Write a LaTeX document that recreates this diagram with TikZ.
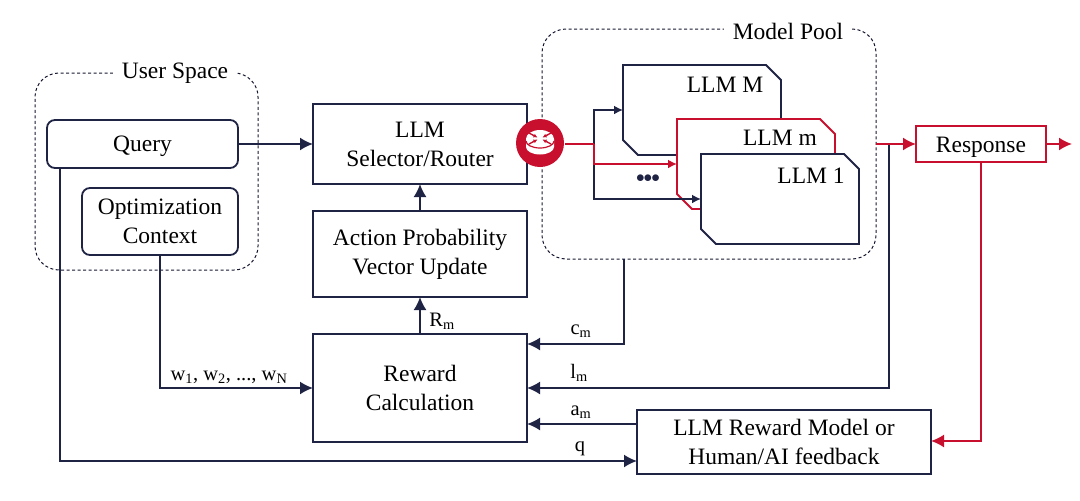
\documentclass[tikz,border=0pt]{standalone}
\usepackage{fontspec}
\setmainfont{Liberation Serif}
\usetikzlibrary{arrows.meta}
\definecolor{navy}{HTML}{1F2344}
\definecolor{crimson}{HTML}{C8102E}
\tikzset{
  flow/.style={draw=navy, line width=1.8pt, -{Latex[length=13pt,width=13pt]}},
  redflow/.style={line width=1.8pt, draw=crimson, -{Latex[length=13pt,width=13pt,color=crimson]}},
  smallflow/.style={line width=1.8pt, -{Latex[length=9pt,width=9pt]}},
  block/.style={draw=navy, line width=1.8pt, align=center, inner sep=0pt, outer sep=0pt,
    execute at begin node={\rule{0pt}{21pt}}},
  softblock/.style={block, rounded corners=8pt},
  group/.style={draw=navy!70!black, dash pattern=on 3pt off 2.5pt, line width=1pt, rounded corners=24pt, inner sep=0pt, outer sep=0pt},
  grouplabel/.style={fill=white, inner sep=9pt},
  llmframe/.style={inner sep=0pt, outer sep=0pt, minimum width=158pt, minimum height=90pt},
  plainlabel/.style={inner sep=0pt},
  sublabel/.style={font=\fontsize{20.5}{24}\selectfont, inner sep=0pt},
}
\begin{document}
\begin{tikzpicture}[x=1pt, y=-1pt, font=\fontsize{23.5}{29}\selectfont, color=black]
\useasboundingbox (0,0) rectangle (1080,501);

% groups
\node[group, minimum width=223pt, minimum height=197pt] (userspace) at (146.5,171.5) {};
\node[grouplabel] (userlabel) at (175,73) {User Space};
\node[group, minimum width=334pt, minimum height=230pt] (pool) at (709,144) {};
\node[grouplabel] (poollabel) at (788,31) {Model Pool};

% user side
\node[softblock, minimum width=191pt, minimum height=48pt] (query) at (142.5,144) {Query};
\node[softblock, minimum width=156pt, minimum height=67pt] (context) at (160,221.5) {Optimization\\Context};

% central column
\node[block, minimum width=214pt, minimum height=80pt] (selector) at (420,144) {LLM\\Selector/Router};
\node[block, minimum width=214pt, minimum height=86pt] (update) at (420,254) {Action Probability\\Vector Update};
\node[block, minimum width=214pt, minimum height=108pt] (reward) at (420,388) {Reward\\Calculation};
\node[block, minimum width=294pt, minimum height=64pt] (feedback) at (784,442) {LLM Reward Model or\\Human/AI feedback};
\node[block, draw=crimson, minimum width=130pt, minimum height=36pt] (response) at (981,144) {Response};

% models
\foreach \name/\tone/\px/\py in {llmM/navy/702/110, llmm/crimson/756/164, llmone/navy/780/199} {
  \node[llmframe] (\name) at (\px,\py) {};
  \filldraw[fill=white, draw=\tone, line width=1.8pt] (\name.north west) -- ([xshift=-15pt]\name.north east)
    -- ([yshift=-15pt]\name.north east) -- (\name.south east) -- ([xshift=15pt]\name.south west)
    -- ([yshift=15pt]\name.south west) -- cycle;
}
\node[plainlabel] (llmMlabel) at (725,85) {LLM M};
\node[plainlabel] (llmmlabel) at (780,138) {LLM m};
\node[plainlabel] (llmonelabel) at (811,176) {LLM 1};
\node[plainlabel, text=navy, font=\fontsize{16}{16}\selectfont] (moredots) at (648,179) {$\bullet$\hspace{-1pt}$\bullet$\hspace{-1pt}$\bullet$};

% router
\node[circle, fill=crimson, minimum size=48pt, inner sep=0pt, outer sep=0pt] (router) at (540,143) {};
\fill[white] (526,147) -- (526,139) arc[start angle=180, end angle=0, x radius=14pt, y radius=9pt]
  -- (554,147) arc[start angle=0, end angle=-180, x radius=14pt, y radius=7.5pt] -- cycle;
\draw[crimson, line width=1.2pt] (526,141) arc[start angle=180, end angle=360, x radius=14pt, y radius=7pt];
\foreach \dx/\dy in {-1/-1, 1/-1, -1/1, 1/1}
  \draw[crimson, line width=1.4pt, -{Latex[length=4pt,width=4pt]}] (540+\dx*11,138.5+\dy*5.5) -- (540+\dx*2.5,138.5+\dy*1);

% connectors into the pool
\coordinate (fork) at (594,144);
\draw[navy, smallflow] (fork) |- (llmM.west);
\draw[navy, smallflow] (fork) |- (llmone.west);
\draw[crimson, smallflow] (fork) |- (llmm.west);
\draw[crimson, line width=1.8pt] (router.east |- fork) ++(1,0) -- (fork);

% main flow
\coordinate (tap) at (889,144);
\draw[flow] (query.east) -- (selector.west);
\draw[flow] (update.north) -- (selector.south);
\draw[flow] (reward.north) -- (update.south);
\draw[flow] ([xshift=-85pt]pool.south) |- (reward.east |- 0,344);
\draw[flow] (tap) |- (reward.east);
\draw[flow] (feedback.west |- 0,424) -- (reward.east |- 0,424);
\draw[flow] (context.south) |- (reward.west);
\draw[flow] ([xshift=-82.5pt]query.south) |- (feedback.west |- 0,461);
\draw[redflow] (pool.east) -- (response.west);
\draw[redflow] (response.east) -- ++(26,0);
\draw[redflow] (response.south) |- (feedback.east |- 0,441);

% signal labels
\node[sublabel] (rlabel) at (442,321) {R\textsubscript{m}};
\node[sublabel] (clabel) at (581,331) {c\textsubscript{m}};
\node[sublabel] (llabel) at (579,373) {l\textsubscript{m}};
\node[sublabel] (alabel) at (581,412) {a\textsubscript{m}};
\node[sublabel] (qlabel) at (580,449) {q};
\node[sublabel] (wlabel) at (229,377) {w\textsubscript{1}, w\textsubscript{2}, ..., w\textsubscript{N}};
\end{tikzpicture}
\end{document}
